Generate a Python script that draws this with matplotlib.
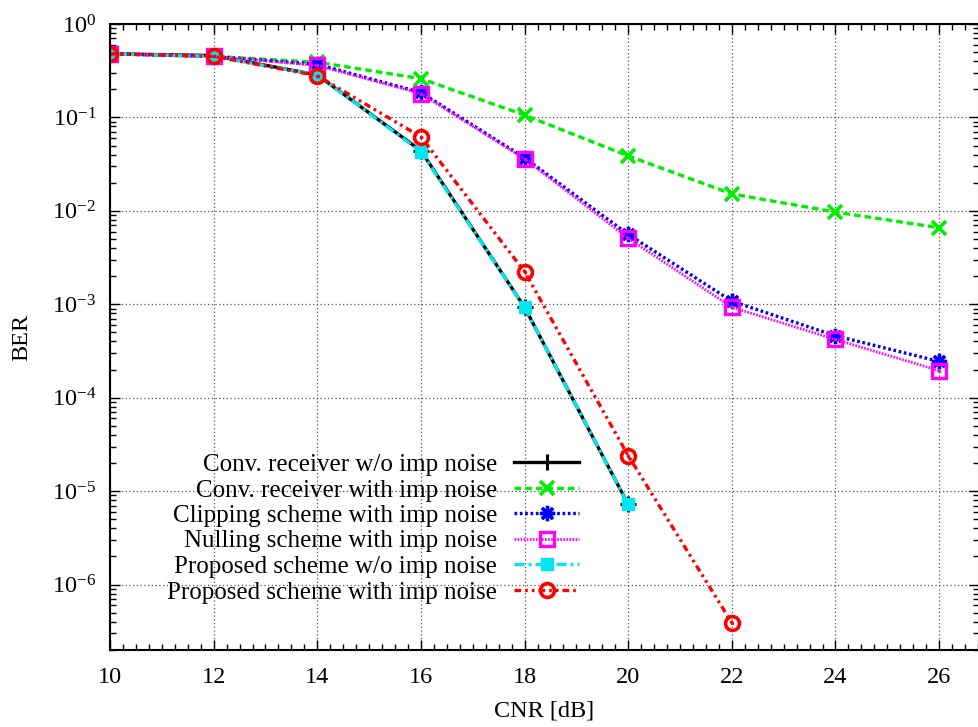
import matplotlib
matplotlib.use("Agg")
import matplotlib.pyplot as plt
from matplotlib.ticker import LogLocator, MultipleLocator, NullFormatter

plt.rcParams['font.family'] = ['Liberation Serif', 'DejaVu Serif']
plt.rcParams['mathtext.fontset'] = 'custom'
plt.rcParams['mathtext.rm'] = 'Liberation Serif'
plt.rcParams['mathtext.it'] = 'Liberation Serif:italic'
plt.rcParams['font.size'] = 17.5

# CNR points [dB]
cnr = [10, 12, 14, 16, 18, 20, 22, 24, 26]

# BER values
conv_wo = [0.48, 0.46, 0.285, 0.044, 9.3e-4, 7.2e-6]
conv_imp = [0.48, 0.45, 0.39, 0.26, 0.106, 0.0387, 0.0152, 0.0097, 0.0066]
clip_imp = [0.48, 0.45, 0.37, 0.185, 0.037, 0.0056, 1.08e-3, 4.6e-4, 2.45e-4]
null_imp = [0.48, 0.45, 0.36, 0.18, 0.036, 0.0051, 9.3e-4, 4.2e-4, 1.95e-4]
prop_wo = [0.48, 0.45, 0.285, 0.043, 9.3e-4, 7.2e-6]
prop_imp = [0.48, 0.45, 0.28, 0.062, 2.24e-3, 2.4e-5, 3.9e-7]

labels = ["Conv. receiver w/o imp noise",
          "Conv. receiver with imp noise",
          "Clipping scheme with imp noise",
          "Nulling scheme with imp noise",
          "Proposed scheme w/o imp noise",
          "Proposed scheme with imp noise"]

fig = plt.figure(figsize=(9.79, 7.27), dpi=100)
ax = fig.add_axes([110/979, 77/727, 869/979, 626/727])

ax.plot(cnr[:len(conv_wo)], conv_wo, color='black', lw=2.4, ls='-',
        marker='+', ms=11, mew=2.2, label=labels[0])
ax.plot(cnr, conv_imp, color='#00ee00', lw=2.4, ls=(0, (2.0, 1.2)),
        marker='x', ms=10, mew=2.6, label=labels[1])
ax.plot(cnr, clip_imp, color='#0000ff', lw=2.4, ls=(0, (0.8, 0.8)),
        marker=(8, 2, 0), ms=11, mew=2.4, label=labels[2])
ax.plot(cnr, null_imp, color='#ff00ff', lw=2.0, ls=(0, (0.6, 0.5)),
        marker='s', ms=10, mew=2.4, mfc='none', label=labels[3])
ax.plot(cnr[:len(prop_wo)], prop_wo, color='#00e5ee', lw=2.4, ls=(0, (3.0, 1.2, 0.9, 1.2)),
        marker='s', ms=9, mew=1, label=labels[4])
ax.plot(cnr[:len(prop_imp)], prop_imp, color='#ff0000', lw=2.4,
        ls=(0, (2.0, 1.2, 0.8, 1.2, 0.8, 1.2)),
        marker='o', ms=10, mew=2.6, mfc='none', label=labels[5])
# centre dots of the open markers
ax.plot(cnr, null_imp, ls='none', marker='.', ms=3, color='#ff00ff')
ax.plot(cnr[:len(prop_imp)], prop_imp, ls='none', marker='.', ms=3, color='#ff0000')

ax.set_yscale('log')
ax.set_xlim(10, 26.77)
ax.set_ylim(10**-6.7, 1)
ax.xaxis.set_major_locator(MultipleLocator(2))
ax.xaxis.set_minor_locator(MultipleLocator(0.25))
ax.yaxis.set_major_locator(LogLocator(base=10, numticks=20))
ax.yaxis.set_minor_locator(LogLocator(base=10, subs=range(2, 10), numticks=20))
ax.yaxis.set_minor_formatter(NullFormatter())
ax.tick_params(which='both', direction='in', top=True, right=True, width=1.0)
ax.tick_params(which='major', length=7, pad=12)
ax.tick_params(which='minor', length=4)
ax.tick_params(axis='y', which='major', pad=10)
for s in ax.spines.values():
    s.set_linewidth(1.5)
ax.grid(True, which='major', color='#555555', ls=(0, (1, 2)), lw=0.9)

ax.set_xlabel("CNR [dB]", labelpad=9)
ax.set_ylabel("BER", labelpad=14)

# markerfirst=False right-aligns the texts against the samples, as gnuplot does
ax.legend(loc='upper right', bbox_to_anchor=(592/979, 1 - 441/727),
          bbox_transform=fig.transFigure, frameon=False, markerfirst=False,
          handlelength=2.6, handletextpad=0.7, labelspacing=0.12,
          borderpad=0, fontsize=18)

fig.savefig("out.png", dpi=100)
